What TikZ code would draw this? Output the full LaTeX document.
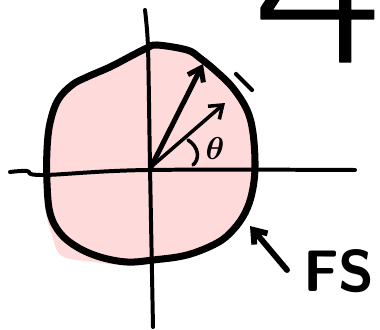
\RequirePackage{fix-cm}
\documentclass[tikz,border=0pt]{standalone}
\usepackage{amsmath}
\usepackage{fontspec}
\newfontfamily\thinfont{DejaVu Sans ExtraLight}[BoldFont=DejaVu Sans ExtraLight, BoldFeatures={FakeBold=0.5}]
\usepackage{xcolor}
\definecolor{fspink}{RGB}{255, 218, 218}
\usetikzlibrary{arrows.meta, positioning}

\begin{document}
\begin{tikzpicture}[
    x=0.03cm, y=-0.03cm,
    line cap=round, line join=round,
    axis/.style={draw=black, line width=3.4pt},
    surface/.style={draw=black, line width=6pt},
    vecarrow/.style={-{Straight Barb[length=3.6mm, width=5.2mm]}, draw=black},
    label/.style={font=\sffamily\bfseries\fontsize{50}{50}\selectfont, inner sep=0pt}
]
    \useasboundingbox (0,0) rectangle (380,330);

    % key points
    \coordinate (O) at (151,167);
    \coordinate (tipA) at (203,64);
    \coordinate (tipB) at (225,103);
    \coordinate (fsTail) at (287,270);
    \coordinate (fsTip) at (250,226);

    % pink fill, a bit off the outline
    \fill[fspink] plot[smooth cycle, tension=0.6] coordinates {
        (155,47) (187,53) (215,72) (232,90) (246,112) (252,135) (253,168)
        (250,195) (242,216) (230,232) (214,246) (185,258) (150,263) (122,265)
        (95,262) (62,256) (52,235) (46,213) (44,183) (45,150) (49,123)
        (57,100) (71,86) (88,78) (112,68) (134,57)};

    % axes
    \draw[axis] plot[smooth, tension=0.6] coordinates {(10,172) (27,171) (43,175) (147,170) (355,170)};
    \draw[axis] plot[smooth, tension=0.4] coordinates {(145,10) (148,47) (150,167) (153,327)};

    % the surface
    \draw[surface] plot[smooth cycle, tension=0.6] coordinates {
        (157,45) (187,50) (200,58) (217,72) (233,88) (247,110) (253,133)
        (255,167) (252,193) (245,213) (233,230) (217,243) (187,255) (153,260)
        (127,262) (100,257) (77,247) (60,233) (50,213) (47,183) (47,150)
        (50,123) (58,100) (72,85) (87,77) (110,67) (133,55) (147,48)};

    % vectors
    \draw[vecarrow, line width=4.3pt] (O) -- (tipA);
    \draw[vecarrow, line width=3pt] (O) -- (tipB);
    \coordinate (tickA) at (236,74);
    \coordinate (tickB) at (252,90);
    \draw[line width=3.6pt] (tickA) -- (tickB);

    % angle
    \coordinate (angA) at (188,140);
    \coordinate (angB) at (193,165);
    \draw[line width=3pt] (angA) .. controls (199,147) and (200,159) .. (angB);
    \node[inner sep=0pt, font=\fontsize{27}{27}\selectfont] (theta) at (215,149) {$\boldsymbol{\theta}$};

    % FS label
    \draw[vecarrow, line width=5pt] (fsTail) -- (fsTip);
    \node[label] (fs) at (339,271) {FS};

    % number cut off at the top
    \node[font=\thinfont\bfseries\fontsize{190}{190}\selectfont, inner sep=0pt, anchor=base east] (num) at (392,62) {4};
\end{tikzpicture}
\end{document}
